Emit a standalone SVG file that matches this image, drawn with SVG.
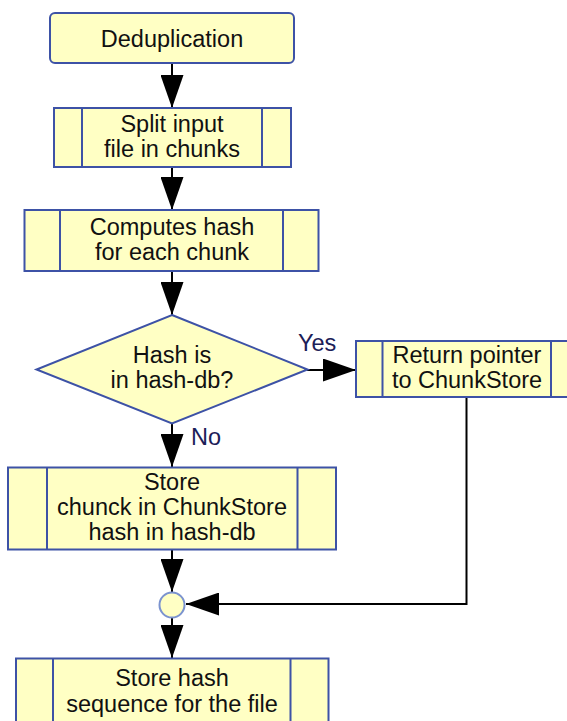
<svg xmlns="http://www.w3.org/2000/svg" width="567" height="721" viewBox="0 0 567 721">
<defs>
<style>
.box{fill:#ffffc4;stroke:#3d52a6;stroke-width:2}
.inner{stroke:#3d52a6;stroke-width:2;fill:none}
.t{font-family:"Liberation Sans",Arial,sans-serif;font-size:23.5px;fill:#111;text-anchor:middle}
.lbl{font-family:"Liberation Sans",Arial,sans-serif;font-size:23.5px;fill:#1c2058}
.c{stroke:#000;stroke-width:2;fill:none}
</style>
<marker id="ah" viewBox="0 0 33 23" refX="33" refY="11.5" markerWidth="33" markerHeight="23" markerUnits="userSpaceOnUse" orient="auto">
<path d="M0,0 L33,11.5 L0,23 Z" fill="#000"/>
</marker>
</defs>
<rect width="567" height="721" fill="#fff"/>
<g id="connectors">
<path class="c" d="M172,63 V108" marker-end="url(#ah)"/>
<path class="c" d="M172,167 V210" marker-end="url(#ah)"/>
<path class="c" d="M172,271 V315" marker-end="url(#ah)"/>
<path class="c" d="M307,370 H356" marker-end="url(#ah)"/>
<path class="c" d="M172,423 V467" marker-end="url(#ah)"/>
<path class="c" d="M172,549 V592" marker-end="url(#ah)"/>
<path class="c" d="M466.5,397 V604 H186" marker-end="url(#ah)"/>
<path class="c" d="M172,618 V658" marker-end="url(#ah)"/>
<text class="lbl" x="298" y="351">Yes</text>
<text class="lbl" x="191" y="445">No</text>
</g>
<g id="dedup">
<rect class="box" x="50" y="13" width="244" height="50" rx="5"/>
<text class="t" x="172" y="47">Deduplication</text>
</g>
<g id="split">
<rect class="box" x="54" y="108" width="237" height="59"/>
<path class="inner" d="M82,108 V167 M262,108 V167"/>
<text class="t" x="172" y="132">Split input</text>
<text class="t" x="172" y="157">file in chunks</text>
</g>
<g id="compute">
<rect class="box" x="24.5" y="210" width="294" height="61"/>
<path class="inner" d="M60,210 V271 M283,210 V271"/>
<text class="t" x="172" y="235">Computes hash</text>
<text class="t" x="172" y="260">for each chunk</text>
</g>
<g id="decision">
<path class="box" d="M172,315 L307.5,369.5 L172,423.5 L36.5,369.5 Z"/>
<text class="t" x="172" y="363">Hash is</text>
<text class="t" x="172" y="388">in hash-db?</text>
</g>
<g id="return">
<rect class="box" x="356" y="341" width="222" height="56"/>
<path class="inner" d="M382.5,341 V397 M551,341 V397"/>
<text class="t" x="467" y="363">Return pointer</text>
<text class="t" x="467" y="388">to ChunkStore</text>
</g>
<g id="store">
<rect class="box" x="8" y="467.5" width="328" height="82"/>
<path class="inner" d="M47,467.5 V549.5 M297.5,467.5 V549.5"/>
<text class="t" x="172" y="490">Store</text>
<text class="t" x="172" y="515">chunck in ChunkStore</text>
<text class="t" x="172" y="540">hash in hash-db</text>
</g>
<g id="merge">
<circle cx="172" cy="605" r="12.5" fill="#ffffc4" stroke="#7b93cf" stroke-width="2"/>
</g>
<g id="storehash">
<rect class="box" x="16" y="658.5" width="312.5" height="75"/>
<path class="inner" d="M53,658.5 V733 M290.5,658.5 V733"/>
<text class="t" x="172" y="686">Store hash</text>
<text class="t" x="172" y="711.5">sequence for the file</text>
</g>
</svg>
